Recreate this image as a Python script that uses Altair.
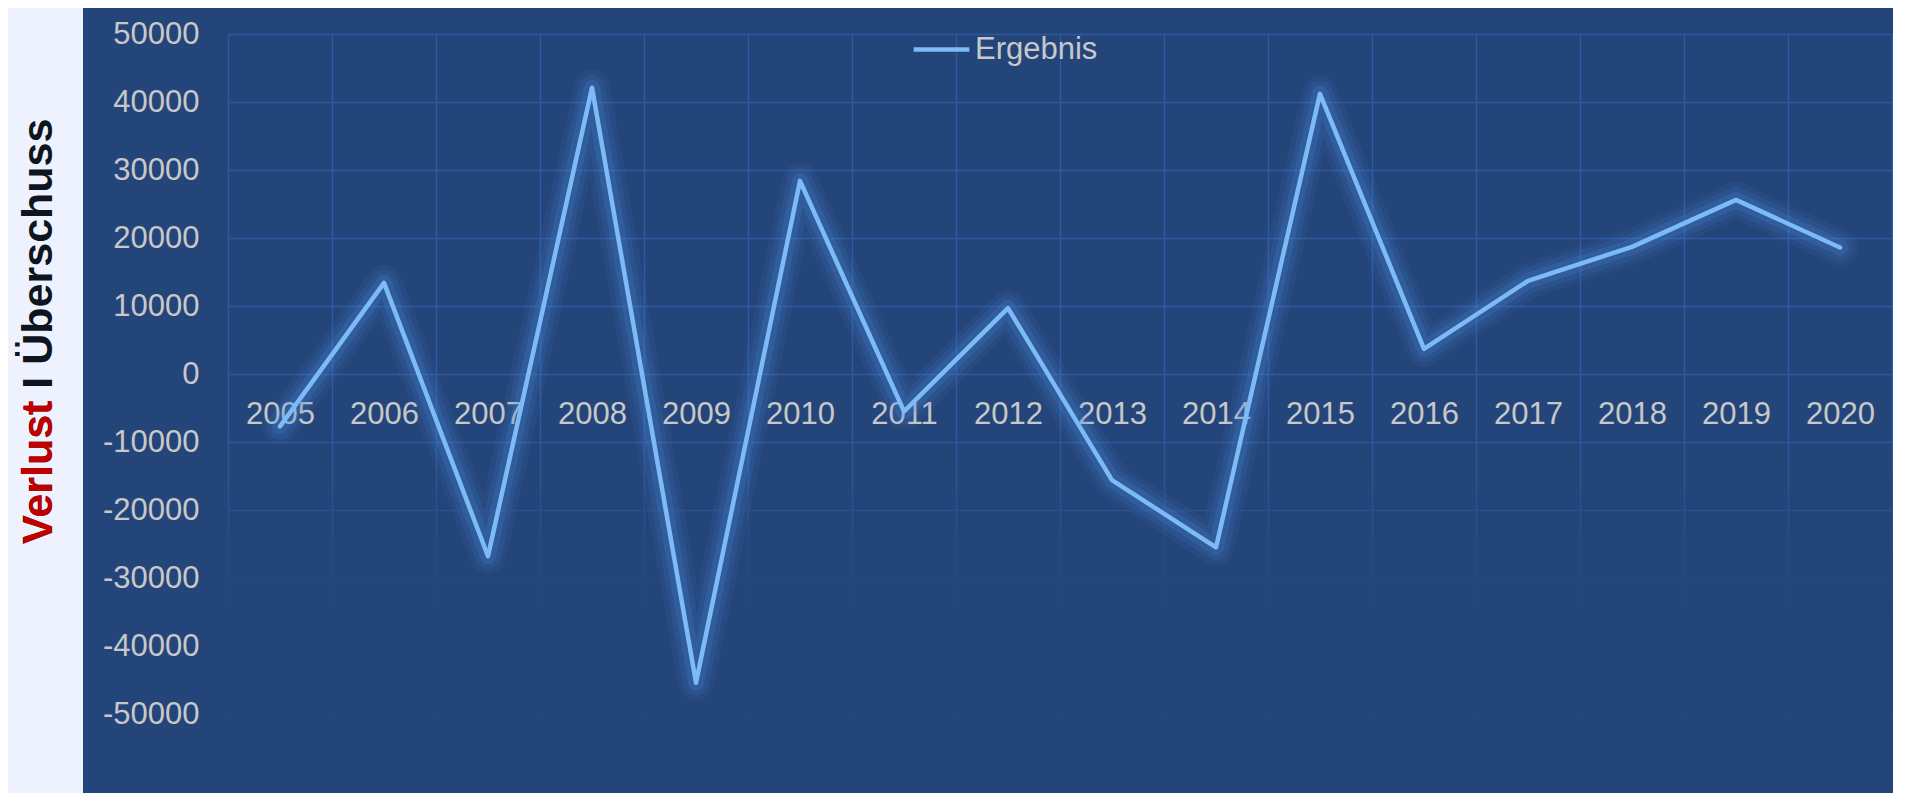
import altair as alt
import pandas as pd

# ---------------- data ----------------
years = ["2005", "2006", "2007", "2008", "2009", "2010", "2011", "2012",
         "2013", "2014", "2015", "2016", "2017", "2018", "2019", "2020"]
ergebnis = [-7700, 13400, -26800, 42100, -45400, 28400, -5500, 9700,
            -15600, -25500, 41200, 3700, 13700, 18700, 25600, 18600]
y_ticks = [50000, 40000, 30000, 20000, 10000, 0,
           -10000, -20000, -30000, -40000, -50000]
series_name = ["Ergebnis"]
title_full = ["Verlust I Überschuss"]
title_red = ["Verlust"]

Y_MIN, Y_MAX = -50000, 50000
FADE_FROM = -7500

# ---------------- style ----------------
W, H = 1664, 680
PAD = {"left": 220, "top": 26, "right": 1, "bottom": 79}
PANEL = "#24457A"
STRIP = "#EDF2FE"
GRID = "#2E5AA3"
LABEL = "#C8C8C8"
LINE = "#7DBBF6"
GLOW = "#4A8ADA"
FONT = "Liberation Sans"

df = pd.DataFrame({
    "Jahr": years,
    "Ergebnis": ergebnis,
    "Reihe": series_name * len(years),
})

x_scale = alt.Scale(type="band", domain=years, paddingInner=0, paddingOuter=0)
y_scale = alt.Scale(domain=[Y_MIN, Y_MAX], nice=False, zero=False)

# x axis sits on the zero line
zero_offset = -H * (0 - Y_MIN) / (Y_MAX - Y_MIN)

x_axis = alt.Axis(
    orient="bottom", offset=zero_offset, title=None, domain=False, ticks=False,
    labelAngle=0, labelPadding=25, labelFontSize=31, labelFont=FONT,
    labelColor=LABEL, grid=True, gridColor=GRID, gridWidth=1.5,
    tickBand="extent",
)
y_axis = alt.Axis(
    values=y_ticks, labelExpr="'' + datum.value", title=None, domain=False,
    ticks=False, labelPadding=29, labelFontSize=31, labelFont=FONT,
    labelColor=LABEL, grid=True, gridColor=GRID, gridWidth=1.5,
    gridOpacity=alt.condition("datum.value <= -40000", alt.value(0), alt.value(1)),
)

X = alt.X("Jahr:N", sort=years, scale=x_scale, axis=x_axis, bandPosition=0.5)
Y = alt.Y("Ergebnis:Q", scale=y_scale, axis=y_axis)

base = alt.Chart(df)

main_line = base.mark_line(
    strokeWidth=4.5, strokeJoin="round", strokeCap="round"
).encode(
    x=X, y=Y,
    color=alt.Color(
        "Reihe:N",
        scale=alt.Scale(range=[LINE]),
        legend=alt.Legend(
            title=None, orient="none", legendX=683, legendY=-15,
            labelFontSize=31, labelFont=FONT, labelColor=LABEL,
            symbolType="stroke", symbolSize=3100, symbolStrokeWidth=4.5,
            labelOffset=3, padding=0,
        ),
    ),
)

def glow(width, opacity):
    return base.mark_line(
        color=GLOW, strokeWidth=width, opacity=opacity,
        strokeJoin="round", strokeCap="round",
    ).encode(x=X, y=Y)

one = pd.DataFrame({"k": [0]})

# soft fade of the grid towards the bottom of the panel
fade = alt.Chart(one).mark_rect(
    fill=alt.Gradient(
        gradient="linear", x1=0, x2=0, y1=0, y2=1,
        stops=[
            alt.GradientStop(color="rgba(36,69,122,0)", offset=0),
            alt.GradientStop(color="rgba(36,69,122,0.5)", offset=0.3),
            alt.GradientStop(color="rgba(36,69,122,0.9)", offset=0.55),
            alt.GradientStop(color="rgba(36,69,122,1)", offset=0.7),
            alt.GradientStop(color="rgba(36,69,122,1)", offset=1),
        ],
    ),
).encode(
    x=alt.value(-3), x2=alt.value(W + 3),
    y=alt.Y(datum=FADE_FROM, scale=y_scale, axis=y_axis),
    y2=alt.datum(Y_MIN),
)

strip = alt.Chart(one).mark_rect(color=STRIP).encode(
    x=alt.value(-PAD["left"]), x2=alt.value(-145),
    y=alt.value(-PAD["top"]), y2=alt.value(H + PAD["bottom"]),
)

title_black = alt.Chart(pd.DataFrame({"t": title_full})).mark_text(
    angle=270, align="left", baseline="alphabetic", font=FONT,
    fontSize=43, fontWeight="bold", color="#0E1420",
).encode(x=alt.value(-176), y=alt.value(510), text="t:N")

title_redtxt = alt.Chart(pd.DataFrame({"t": title_red})).mark_text(
    angle=270, align="left", baseline="alphabetic", font=FONT,
    fontSize=43, fontWeight="bold", color="#C00000",
).encode(x=alt.value(-176), y=alt.value(510), text="t:N")

chart = alt.layer(
    fade,
    glow(36, 0.08),
    glow(26, 0.12),
    glow(16, 0.20),
    main_line,
    strip,
    title_black,
    title_redtxt,
).properties(
    width=W, height=H, padding=PAD,
    autosize=alt.AutoSizeParams(type="none"),
    background=PANEL,
).configure_view(stroke=None)

chart.save("out.html", embed_options={"renderer": "svg", "actions": False})
